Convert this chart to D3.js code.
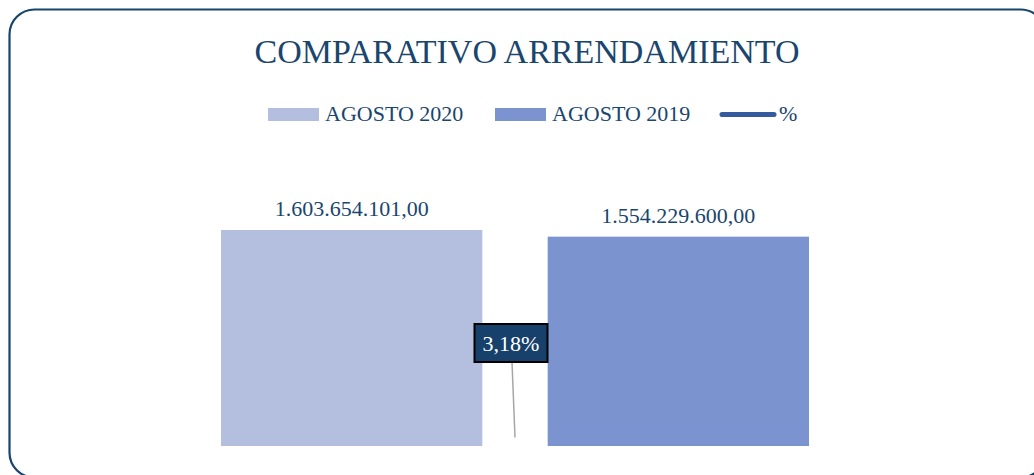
<!DOCTYPE html>
<html>
<head>
<meta charset="utf-8">
<script src="https://cdn.jsdelivr.net/npm/d3@7"></script>
<style>
  body { margin: 0; background: #fff; }
  text { font-family: "Liberation Serif", "Times New Roman", serif; }
</style>
</head>
<body>
<script>
const series = ["AGOSTO 2020", "AGOSTO 2019"];
const values = [1603654101.00, 1554229600.00];
const colors = ["#b4bedf", "#7b93cf"];
const pctLabel = "%";
const pctValue = 0.0318;

const WIDTH = 1034;
const HEIGHT = 475;
const TEXT = "#1a466e";

const svg = d3.select("body")
  .append("svg")
  .attr("width", WIDTH)
  .attr("height", HEIGHT);

// frame
svg.append("rect")
  .attr("x", 9.5)
  .attr("y", 9.5)
  .attr("width", 1036)
  .attr("height", 468)
  .attr("rx", 25)
  .attr("fill", "#fff")
  .attr("stroke", "#17456b")
  .attr("stroke-width", 2.2);

// title
svg.append("text")
  .attr("x", 527)
  .attr("y", 63)
  .attr("text-anchor", "middle")
  .attr("font-size", "34px")
  .attr("fill", TEXT)
  .text("COMPARATIVO ARRENDAMIENTO");

// scales
const x = d3.scaleBand()
  .domain(series)
  .range([221, 809])
  .paddingInner(0.2)
  .paddingOuter(0);

const y = d3.scaleLinear()
  .domain([0, 2000000000])
  .range([446, 446 - 216 * 2000000000 / values[0]]);

const y2 = d3.scaleLinear()
  .domain([0, 1])
  .range([446, 176]);

const locale = d3.formatLocale({ decimal: ",", thousands: ".", grouping: [3], currency: ["", ""] });
const fmt = locale.format(",.2f");
const fmtPct = locale.format(".2%");

// bars
svg.selectAll("rect.bar")
  .data(series)
  .enter()
  .append("rect")
  .attr("class", "bar")
  .attr("x", d => x(d))
  .attr("width", x.bandwidth())
  .attr("y", (d, i) => y(values[i]))
  .attr("height", (d, i) => y(0) - y(values[i]))
  .attr("fill", (d, i) => colors[i]);

// value labels
svg.selectAll("text.val")
  .data(series)
  .enter()
  .append("text")
  .attr("class", "val")
  .attr("x", d => x(d) + x.bandwidth() / 2)
  .attr("y", (d, i) => y(values[i]) - 14)
  .attr("text-anchor", "middle")
  .attr("font-size", "22px")
  .attr("fill", TEXT)
  .text((d, i) => fmt(values[i]));

// % point (centre of the category) with leader line to its label
const px = (x(series[0]) + x(series[1]) + x.bandwidth()) / 2;
const py = y2(pctValue);
const boxW = 73, boxH = 38;
const boxY = 324;
const boxCx = px - 4;

svg.append("line")
  .attr("x1", boxCx + 1)
  .attr("y1", boxY + boxH)
  .attr("x2", px)
  .attr("y2", Math.min(py, 446))
  .attr("stroke", "#a6a6a6")
  .attr("stroke-width", 1.5);

svg.append("rect")
  .attr("x", boxCx - boxW / 2)
  .attr("y", boxY)
  .attr("width", boxW)
  .attr("height", boxH)
  .attr("fill", "#17406a")
  .attr("stroke", "#000")
  .attr("stroke-width", 2);

svg.append("text")
  .attr("x", boxCx)
  .attr("y", boxY + 27)
  .attr("text-anchor", "middle")
  .attr("font-size", "22px")
  .attr("fill", "#fff")
  .text(fmtPct(pctValue));

// legend
const legend = svg.append("g");
const legX = [268, 495];
series.forEach((s, i) => {
  legend.append("rect")
    .attr("x", legX[i])
    .attr("y", 108)
    .attr("width", 51)
    .attr("height", 13)
    .attr("fill", colors[i]);
  legend.append("text")
    .attr("x", legX[i] + 57)
    .attr("y", 121)
    .attr("font-size", "22px")
    .attr("fill", TEXT)
    .text(s);
});
legend.append("line")
  .attr("x1", 722)
  .attr("x2", 774)
  .attr("y1", 114.5)
  .attr("y2", 114.5)
  .attr("stroke", "#335b9e")
  .attr("stroke-width", 5)
  .attr("stroke-linecap", "round");
legend.append("text")
  .attr("x", 779)
  .attr("y", 121)
  .attr("font-size", "22px")
  .attr("fill", TEXT)
  .text(pctLabel);
</script>
</body>
</html>
